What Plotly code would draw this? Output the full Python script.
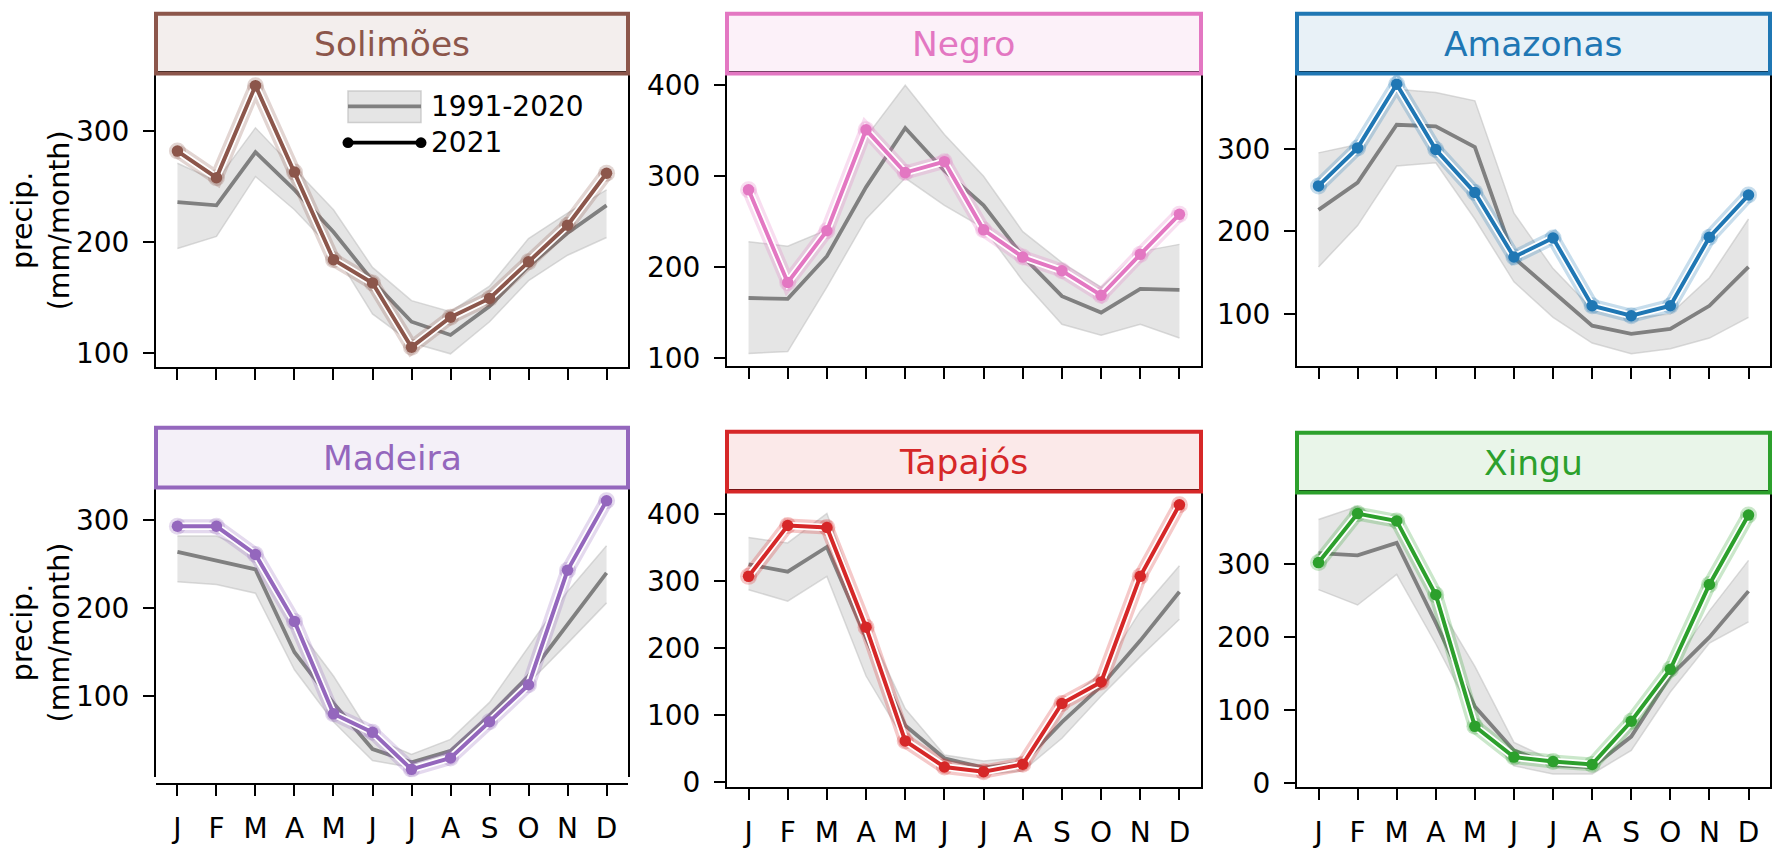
import plotly.graph_objects as go

# ---------------- data ----------------
MONTH_NUM = [1, 2, 3, 4, 5, 6, 7, 8, 9, 10, 11, 12]
MONTH_LABELS = ["J", "F", "M", "A", "M", "J", "J", "A", "S", "O", "N", "D"]
BASINS = ["Solimões", "Negro", "Amazonas", "Madeira", "Tapajós", "Xingu"]

solimoes_2021 = [282, 258, 341, 263, 184, 163, 105, 132, 149, 182, 215, 262]
solimoes_mean = [236, 233, 281, 247, 209, 165, 128, 116, 142, 178, 208, 233]
solimoes_low = [194, 205, 259, 229, 192, 135, 109, 99, 128, 165, 188, 204]
solimoes_high = [271, 255, 303, 266, 229, 177, 147, 137, 160, 203, 226, 247]

negro_2021 = [285, 183, 240, 351, 304, 316, 241, 211, 196, 169, 214, 258]
negro_mean = [166, 165, 212, 288, 353, 306, 268, 212, 168, 150, 176, 175]
negro_low = [105, 107, 178, 253, 298, 268, 243, 185, 137, 125, 137, 122]
negro_high = [228, 223, 241, 343, 400, 346, 300, 239, 205, 178, 217, 225]

amazonas_2021 = [255, 301, 378, 299, 247, 169, 192, 110, 98, 110, 193, 244]
amazonas_mean = [226, 259, 329, 327, 302, 168, 127, 86, 76, 82, 110, 157]
amazonas_low = [157, 207, 279, 283, 215, 139, 96, 65, 52, 58, 71, 96]
amazonas_high = [295, 305, 372, 368, 358, 222, 155, 106, 95, 100, 144, 215]

madeira_2021 = [293, 293, 261, 185, 80, 59, 17, 30, 71, 113, 243, 322]
madeira_mean = [264, 254, 244, 150, 92, 40, 25, 38, 78, 123, 182, 240]
madeira_low = [230, 227, 217, 130, 71, 27, 19, 32, 67, 115, 160, 206]
madeira_high = [282, 282, 264, 182, 123, 53, 34, 51, 93, 156, 219, 271]

tapajos_2021 = [307, 383, 380, 231, 61, 22, 15, 26, 117, 149, 307, 414]
tapajos_mean = [325, 314, 351, 215, 84, 35, 21, 28, 89, 143, 211, 284]
tapajos_low = [287, 270, 307, 158, 60, 18, 11, 16, 65, 128, 187, 243]
tapajos_high = [365, 357, 401, 236, 109, 40, 31, 36, 117, 162, 255, 323]

xingu_2021 = [302, 369, 359, 258, 78, 36, 30, 26, 85, 156, 272, 367]
xingu_mean = [315, 312, 329, 220, 105, 45, 25, 22, 64, 147, 200, 263]
xingu_low = [265, 244, 286, 191, 88, 24, 13, 13, 45, 125, 192, 221]
xingu_high = [361, 379, 350, 250, 160, 56, 31, 27, 80, 156, 236, 305]

SERIES_2021 = [solimoes_2021, negro_2021, amazonas_2021, madeira_2021, tapajos_2021, xingu_2021]
SERIES_MEAN = [solimoes_mean, negro_mean, amazonas_mean, madeira_mean, tapajos_mean, xingu_mean]
SERIES_LOW = [solimoes_low, negro_low, amazonas_low, madeira_low, tapajos_low, xingu_low]
SERIES_HIGH = [solimoes_high, negro_high, amazonas_high, madeira_high, tapajos_high, xingu_high]

Y_TICKS = [[100, 200, 300], [100, 200, 300, 400], [100, 200, 300],
           [100, 200, 300], [0, 100, 200, 300, 400], [0, 100, 200, 300]]
Y_RANGES = [[87, 352], [91, 413], [37, 391], [8, 337], [-8, 434], [-5, 398]]
LEGEND_LABELS = ["1991-2020", "2021"]

# ---------------- style / layout ----------------
W, H = 1781, 849
COLORS = ["#8c564b", "#e377c2", "#1f77b4", "#9467bd", "#d62728", "#2ca02c"]
# plot-area pixel boxes (left, right, top, bottom)
BOXES = [(156, 628, 71, 371), (727, 1201, 71, 370), (1297, 1770, 71, 370),
         (156, 628, 494, 790), (727, 1201, 498, 800), (1297, 1770, 499, 800)]
# x-axis spine position (px); Madeira has an outward offset bottom spine
XSPINE = [None, None, None, 797, None, None]
TITLE_H = 61
FONT = "DejaVu Sans"
TICK_FS = 28


def px_x(x):
    return x / W


def px_y(y):
    return 1 - y / H


def rgba(hexc, a):
    h = hexc.lstrip("#")
    r, g, b = int(h[0:2], 16), int(h[2:4], 16), int(h[4:6], 16)
    return f"rgba({r},{g},{b},{a})"


fig = go.Figure()
shapes = []
annotations = []

for i, name in enumerate(BASINS):
    k = "" if i == 0 else str(i + 1)
    xa, ya = "x" + k, "y" + k
    col = COLORS[i]
    # climatology band
    fig.add_trace(go.Scatter(x=MONTH_NUM, y=SERIES_LOW[i], mode="lines",
                             line=dict(color="rgba(190,190,190,0.55)", width=1.5),
                             xaxis=xa, yaxis=ya, showlegend=False, hoverinfo="skip"))
    fig.add_trace(go.Scatter(x=MONTH_NUM, y=SERIES_HIGH[i], mode="lines",
                             line=dict(color="rgba(190,190,190,0.55)", width=1.5),
                             fill="tonexty", fillcolor="rgba(215,215,215,0.65)",
                             xaxis=xa, yaxis=ya, showlegend=False, hoverinfo="skip"))
    fig.add_trace(go.Scatter(x=MONTH_NUM, y=SERIES_MEAN[i], mode="lines",
                             line=dict(color="#808080", width=3.8),
                             xaxis=xa, yaxis=ya, showlegend=False))
    # 2021 with halo and white outline
    fig.add_trace(go.Scatter(x=MONTH_NUM, y=SERIES_2021[i], mode="lines+markers",
                             line=dict(color=rgba(col, 0.25), width=14),
                             marker=dict(color=rgba(col, 0.25), size=17),
                             xaxis=xa, yaxis=ya, showlegend=False, hoverinfo="skip"))
    fig.add_trace(go.Scatter(x=MONTH_NUM, y=SERIES_2021[i], mode="lines",
                             line=dict(color="white", width=7.5),
                             xaxis=xa, yaxis=ya, showlegend=False, hoverinfo="skip"))
    fig.add_trace(go.Scatter(x=MONTH_NUM, y=SERIES_2021[i], mode="lines+markers",
                             line=dict(color=col, width=4),
                             marker=dict(color=col, size=11.5),
                             xaxis=xa, yaxis=ya, showlegend=False))

    l, r, t, b = BOXES[i]
    bottom_row = i >= 3
    xdict = dict(
        domain=[px_x(l), px_x(r)], anchor=ya, range=[0.45, 12.55],
        tickvals=MONTH_NUM, ticktext=MONTH_LABELS, showticklabels=bottom_row,
        ticks="outside", ticklen=11, tickwidth=2, tickcolor="black",
        showline=True, linecolor="black", linewidth=2, mirror=True,
        showgrid=False, zeroline=False, ticklabelstandoff=8,
        tickfont=dict(family=FONT, size=TICK_FS, color="black"))
    if XSPINE[i] is not None:
        xdict.update(anchor="free", position=px_y(XSPINE[i]), mirror=False)
    fig.layout["xaxis" + k] = xdict
    fig.layout["yaxis" + k] = dict(
        domain=[px_y(b), px_y(t)], anchor=xa, range=Y_RANGES[i],
        tickvals=Y_TICKS[i], ticks="outside", ticklen=11, tickwidth=2,
        tickcolor="black", showline=True, linecolor="black", linewidth=2,
        mirror=True, showgrid=False, zeroline=False, ticklabelstandoff=8,
        tickfont=dict(family=FONT, size=TICK_FS, color="black"))

    # title box
    shapes.append(dict(type="rect", xref="paper", yref="paper",
                       x0=px_x(l), x1=px_x(r), y0=px_y(t), y1=px_y(t - TITLE_H),
                       line=dict(color=col, width=4), fillcolor=rgba(col, 0.1),
                       layer="above"))
    annotations.append(dict(text=name, xref="paper", yref="paper",
                            x=px_x((l + r) / 2), y=px_y(t - TITLE_H / 2),
                            xanchor="center", yanchor="middle", showarrow=False,
                            font=dict(family=FONT, size=34.5, color=col)))
    if i % 3 == 0:
        annotations.append(dict(text="precip.<br>(mm/month)", xref="paper", yref="paper",
                                x=px_x(41), y=px_y((t + b) / 2), textangle=-90,
                                xanchor="center", yanchor="middle", showarrow=False,
                                font=dict(family=FONT, size=28.5, color="black")))

# manual legend in Solimões panel
shapes.append(dict(type="rect", xref="paper", yref="paper",
                   x0=px_x(348), x1=px_x(421), y0=px_y(121), y1=px_y(89),
                   line=dict(color="rgba(190,190,190,0.7)", width=1.5),
                   fillcolor="rgba(215,215,215,0.65)"))
shapes.append(dict(type="line", xref="paper", yref="paper",
                   x0=px_x(348), x1=px_x(421), y0=px_y(104.5), y1=px_y(104.5),
                   line=dict(color="#808080", width=3.8)))
shapes.append(dict(type="line", xref="paper", yref="paper",
                   x0=px_x(348), x1=px_x(421), y0=px_y(141.7), y1=px_y(141.7),
                   line=dict(color="black", width=3.8)))
for cx in (348, 421):
    shapes.append(dict(type="circle", xref="paper", yref="paper",
                       x0=px_x(cx - 5.5), x1=px_x(cx + 5.5),
                       y0=px_y(141.7 + 5.5), y1=px_y(141.7 - 5.5),
                       line=dict(color="black", width=0), fillcolor="black"))
for lbl, yy in zip(LEGEND_LABELS, (105, 142)):
    annotations.append(dict(text=lbl, xref="paper", yref="paper",
                            x=px_x(429), y=px_y(yy), xanchor="left", yanchor="middle",
                            showarrow=False, font=dict(family=FONT, size=28, color="black")))

fig.update_layout(width=W, height=H, margin=dict(l=0, r=0, t=0, b=0),
                  paper_bgcolor="white", plot_bgcolor="white",
                  shapes=shapes, annotations=annotations, showlegend=False,
                  font=dict(family=FONT))

fig.write_html("out.html")
